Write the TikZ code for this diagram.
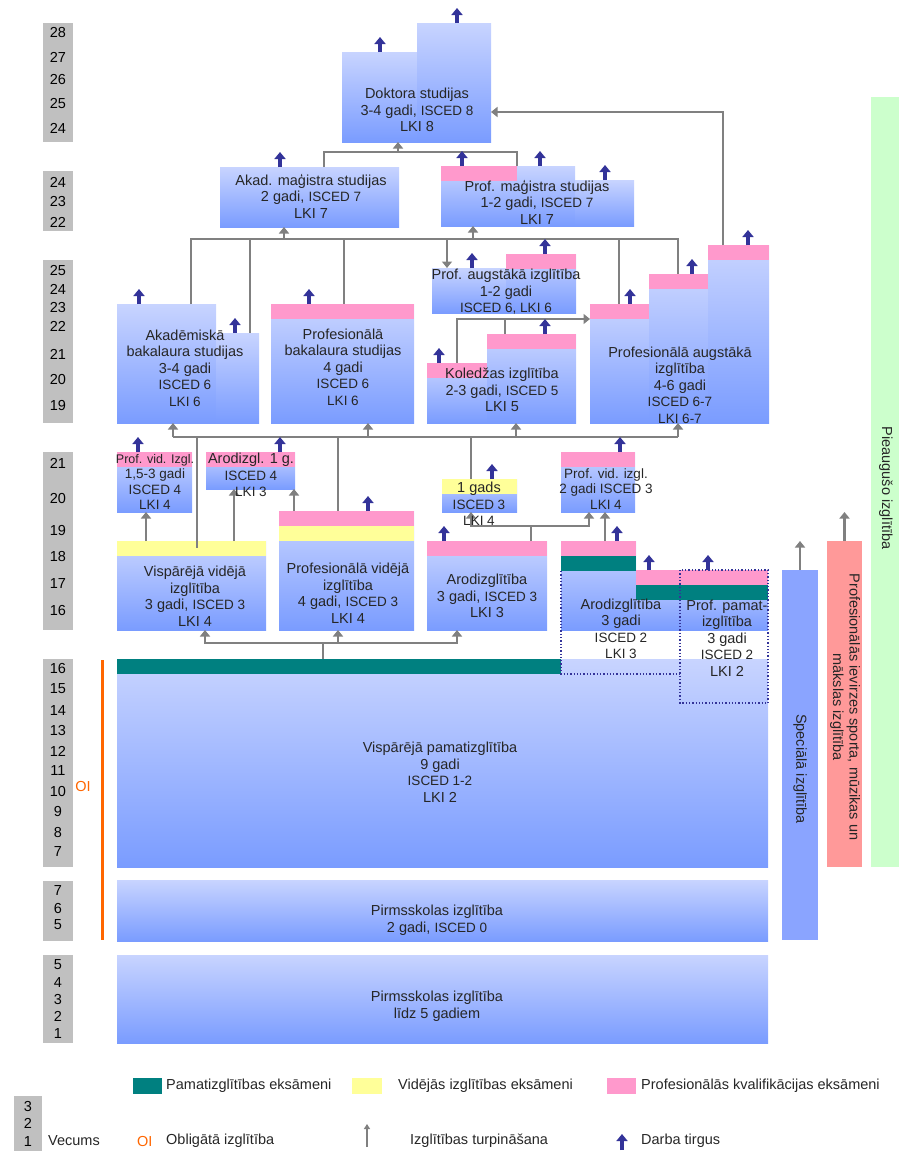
\documentclass[tikz,border=0pt]{standalone}
\usepackage{fontspec}
\setmainfont{Liberation Sans}
\usetikzlibrary{arrows.meta,positioning}

\definecolor{blokgaiss}{RGB}{200,212,255}
\definecolor{bloktumss}{RGB}{122,156,255}
\definecolor{roza}{RGB}{255,153,204}
\definecolor{dzeltens}{RGB}{255,255,153}
\definecolor{zilzals}{RGB}{0,128,128}
\definecolor{vecpel}{RGB}{192,192,192}
\definecolor{pelekss}{RGB}{128,128,128}
\definecolor{tumszils}{RGB}{51,51,153}
\definecolor{oranzs}{RGB}{255,102,0}
\definecolor{specz}{RGB}{138,164,255}
\definecolor{lasis}{RGB}{255,153,153}
\definecolor{zals}{RGB}{204,255,204}

\newcommand{\isc}{\fontsize{13.5}{16.5}\selectfont}
\newcommand{\kaste}[6][blok]{\node[#1, minimum width={(#5-#3)*1pt}, minimum height={(#6-#4)*1pt}] (#2) at (#3,#4) {};}

\tikzset{
	blok/.style={inner sep=0pt, outer sep=0pt, anchor=north west, top color=blokgaiss, bottom color=bloktumss},
	vecbox/.style={inner sep=0pt, outer sep=0pt, anchor=north west, fill=vecpel},
	gads/.style={inner sep=0pt, font=\fontsize{14.5}{17}\selectfont},
	teksts/.style={align=center, inner sep=0pt, text=black!85, font=\fontsize{14.5}{16.5}\selectfont},
	mazs/.style={teksts, font=\fontsize{13.5}{15.5}\selectfont},
	legteksts/.style={inner sep=0pt, anchor=west, text=black!85, font=\fontsize{14.5}{17}\selectfont},
	savienojums/.style={draw=pelekss, line width=2.5pt},
	turp/.style={savienojums, -{Triangle[width=10pt,length=6.5pt]}},
	darba/.style={draw=tumszils, line width=4pt, -{Triangle[width=11pt,length=7pt]}},
	punkti/.style={draw=tumszils, line width=1.3pt, dotted},
}

\begin{document}
\begin{tikzpicture}[x=1pt,y=-1pt]
	\useasboundingbox (0,0) rectangle (900,1151);
	
	% vecums
	\kaste[vecbox]{v1}{43}{23}{73}{142}
	\kaste[vecbox]{v2}{43}{171}{73}{231}
	\kaste[vecbox]{v3}{43}{260}{73}{423}
	\kaste[vecbox]{v4}{43}{452}{73}{630}
	\kaste[vecbox]{v5}{43}{659}{73}{867}
	\kaste[vecbox]{v6}{43}{881}{73}{941}
	\kaste[vecbox]{v7}{43}{955}{73}{1043}
	\foreach \n/\y [count=\i] in {28/33,27/57,26/80,25/104,24/128}
		\node[gads] (g1-\i) at (58,\y) {\n};
	\foreach \n/\y [count=\i] in {24/182,23/202,22/222}
		\node[gads] (g2-\i) at (58,\y) {\n};
	\foreach \n/\y [count=\i] in {25/271,24/289,23/308,22/326,21/354,20/380,19/406}
		\node[gads] (g3-\i) at (58,\y) {\n};
	\foreach \n/\y [count=\i] in {21/463,20/499,19/531,18/557,17/584,16/611}
		\node[gads] (g4-\i) at (58,\y) {\n};
	\foreach \n/\y [count=\i] in {16/669,15/689,14/711,13/730,12/751,11/771,10/791,9/811,8/832,7/852}
		\node[gads] (g5-\i) at (58,\y) {\n};
	\foreach \n/\y [count=\i] in {7/891,6/908,5/925}
		\node[gads] (g6-\i) at (58,\y) {\n};
	\foreach \n/\y [count=\i] in {5/965,4/982,3/999,2/1016,1/1033}
		\node[gads] (g7-\i) at (58,\y) {\n};
	
	\draw[oranzs, line width=3pt] (102,660) -- (102,940);
	\node[gads, text=oranzs] (oi) at (83,786) {OI};
	
	% pamatizglitiba, pirmsskola
	\kaste{vispamat}{117}{659}{768}{867}
	\kaste{pirms2}{117}{880}{768}{941}
	\kaste{pirms5}{117}{955}{768}{1043}
	\fill[zilzals] (117,659) rectangle (561,674);
	
	% 16-19
	\kaste{visvid}{117}{541}{266}{630}
	\kaste{profvid}{279}{511}{414}{630}
	\kaste{arod3}{427}{541}{547}{630}
	\kaste{arod2}{561}{541}{636}{630}
	\kaste{ppamat}{636}{570}{768}{630}
	\fill[dzeltens] (117,541) rectangle (266,556);
	\fill[roza] (279,511) rectangle (414,526);
	\fill[dzeltens] (279,526) rectangle (414,541);
	\fill[roza] (427,541) rectangle (547,556);
	\fill[roza] (561,541) rectangle (636,556);
	\fill[zilzals] (561,556) rectangle (636,571);
	\fill[roza] (636,570) rectangle (768,585);
	\fill[zilzals] (636,585) rectangle (768,600);
	\draw[punkti] (561,571) -- (561,674) -- (680,674);
	\draw[punkti] (680,570) rectangle (768,703);
	
	% 19-21
	\kaste{pvid1}{117}{452}{192}{512}
	\kaste{arodizgl1}{206}{452}{295}{489}
	\kaste{gads1}{442}{479}{517}{512}
	\kaste{pvid2}{561}{452}{635}{512}
	\fill[roza] (117,452) rectangle (192,467);
	\fill[roza] (206,452) rectangle (295,467);
	\fill[dzeltens] (442,479) rectangle (517,494);
	\fill[roza] (561,452) rectangle (635,467);
	
	% augstaka
	\kaste{akadbakA}{117}{304}{216}{423}
	\kaste{akadbakB}{216}{333}{259}{423}
	\kaste{profbak}{271}{304}{414}{423}
	\kaste{profaugA}{432}{268}{506}{313}
	\kaste{profaugB}{506}{254}{576}{313}
	\kaste{koledzA}{427}{363}{487}{423}
	\kaste{koledzB}{487}{334}{576}{423}
	\kaste{paugA}{590}{304}{649}{423}
	\kaste{paugB}{649}{274}{708}{423}
	\kaste{paugC}{708}{245}{769}{423}
	\fill[roza] (271,304) rectangle (414,319);
	\fill[roza] (506,254) rectangle (576,269);
	\fill[roza] (427,363) rectangle (487,378);
	\fill[roza] (487,334) rectangle (576,349);
	\fill[roza] (590,304) rectangle (649,319);
	\fill[roza] (649,274) rectangle (708,289);
	\fill[roza] (708,245) rectangle (769,260);
	
	% magistra, doktora
	\kaste{akadmag}{220}{167}{399}{227}
	\kaste{profmagA}{441}{166}{575}{226}
	\kaste{profmagB}{575}{180}{634}{226}
	\kaste{dokA}{342}{52}{417}{142}
	\kaste{dokB}{417}{23}{491}{142}
	\fill[roza] (441,166) rectangle (517,181);
	
	% sani
	\kaste[vecbox, fill=specz]{specbar}{782}{570}{818}{940}
	\kaste[vecbox, fill=lasis]{sportbar}{827}{541}{862}{867}
	\kaste[vecbox, fill=zals]{pieaugbar}{871}{97}{899}{867}
	
	% izglitibas turpinasana
	\coordinate (d1) at (324,152);
	\coordinate (d2) at (517,152);
	\coordinate (d3) at (398,152);
	\coordinate (d4) at (723,112);
	\draw[savienojums] (akadmag.north -| d1) -- (d1) -- (d2) -- (profmagA.north -| d2);
	\draw[turp] (d3) -- (dokA.south -| d3);
	\draw[turp] (paugC.north -| d4) -- (d4) -- (dokB.east |- d4);
	
	\coordinate (m1) at (191,239);
	\coordinate (m2) at (250,239);
	\coordinate (m3) at (284,239);
	\coordinate (m4) at (344,239);
	\coordinate (m5) at (447,239);
	\coordinate (m6) at (473,239);
	\coordinate (m7) at (619,239);
	\coordinate (m8) at (678,239);
	\draw[savienojums] (akadbakA.north -| m1) -- (m1) -- (m8) -- (paugB.north -| m8);
	\draw[savienojums] (m2) -- (akadbakB.north -| m2);
	\draw[savienojums] (m4) -- (profbak.north -| m4);
	\draw[savienojums] (m7) -- (paugA.north -| m7);
	\draw[turp] (m3) -- (akadmag.south -| m3);
	\draw[turp] (m6) -- (profmagA.south -| m6);
	\draw[turp] (m5) -- (profaugA.north -| m5);
	
	\coordinate (k1) at (457,319);
	\coordinate (k2) at (505,319);
	\draw[turp] (koledzA.north -| k1) -- (k1) -- (paugA.west |- k1);
	\draw[savienojums] (koledzB.north -| k2) -- (k2);
	
	\coordinate (n1) at (173,437);
	\coordinate (n2) at (197,437);
	\coordinate (n2b) at (197,548);
	\coordinate (n3) at (338,437);
	\coordinate (n4) at (368,437);
	\coordinate (n5) at (471,437);
	\coordinate (n6) at (516,437);
	\coordinate (n7) at (678,437);
	\draw[savienojums] (n1) -- (n7);
	\draw[turp] (n1) -- (akadbakA.south -| n1);
	\draw[turp] (n4) -- (profbak.south -| n4);
	\draw[turp] (n6) -- (koledzB.south -| n6);
	\draw[turp] (n7) -- (paugB.south -| n7);
	\draw[savienojums] (n2) -- (n2b);
	\draw[savienojums] (n3) -- (profvid.north -| n3);
	\draw[savienojums] (n5) -- (gads1.north -| n5);
	
	\coordinate (p1) at (146,0);
	\coordinate (p2) at (234,0);
	\coordinate (p3) at (294,0);
	\coordinate (p4) at (605,0);
	\draw[turp] (visvid.north -| p1) -- (pvid1.south -| p1);
	\draw[turp] (visvid.north -| p2) -- (arodizgl1.south -| p2);
	\draw[turp] (profvid.north -| p3) -- (arodizgl1.south -| p3);
	\draw[turp] (arod2.north -| p4) -- (pvid2.south -| p4);
	
	\coordinate (r1) at (531,526);
	\coordinate (r2) at (471,526);
	\coordinate (r3) at (589,526);
	\draw[savienojums] (arod3.north -| r1) -- (r1);
	\draw[turp] (r1) -| (gads1.south -| r2);
	\draw[turp] (r1) -| (pvid2.south -| r3);
	
	\coordinate (s1) at (205,643);
	\coordinate (s2) at (323,643);
	\coordinate (s3) at (338,643);
	\coordinate (s4) at (457,643);
	\draw[savienojums] (vispamat.north -| s2) -- (s2);
	\draw[turp] (s2) -| (visvid.south -| s1);
	\draw[turp] (s2) -| (arod3.south -| s4);
	\draw[turp] (s3) -- (profvid.south -| s3);
	
	\draw[turp] (specbar.north) -- ++(0,-29);
	\draw[turp] (sportbar.north) -- ++(0,-29);
	
	% darba tirgus
	\foreach \x/\y in {380/52,457/23,280/167,462/166,540/166,605/180,139/304,235/333,
		309/304,472/268,545/254,439/363,545/334,630/304,692/274,748/245,138/452,
		280/452,368/511,444/541,492/479,620/452,617/541,649/570,708/570}
		\draw[darba] (\x,\y) -- ++(0,-15);
	
	% teksti
	\node[teksts] (dokT) at (417,110) {Doktora studijas\\3-4 gadi, {\isc ISCED 8}\\LKI 8};
	\node[teksts] (akadmagT) at (311,196) {Akad. maģistra studijas\\2 gadi, {\isc ISCED 7}\\LKI 7};
	\node[teksts] (profmagT) at (537,202) {Prof. maģistra studijas\\1-2 gadi, {\isc ISCED 7}\\LKI 7};
	\node[teksts] (profaugT) at (506,292) {Prof. augstākā izglītība\\1-2 gadi\\{\isc ISCED 6, LKI 6}};
	\node[teksts] (akadbakT) at (185,368) {Akadēmiskā\\bakalaura studijas\\3-4 gadi\\{\isc ISCED 6}\\{\isc LKI 6}};
	\node[teksts] (profbakT) at (343,367) {Profesionālā\\bakalaura studijas\\4 gadi\\{\isc ISCED 6}\\{\isc LKI 6}};
	\node[teksts] (koledzT) at (502,390) {Koledžas izglītība\\2-3 gadi, {\isc ISCED 5}\\LKI 5};
	\node[teksts] (paugT) at (680,385) {Profesionālā augstākā\\izglītība\\4-6 gadi\\{\isc ISCED 6-7}\\{\isc LKI 6-7}};
	\node[mazs] (pvid1T) at (155,482) {{\fontsize{12.5}{15.5}\selectfont Prof. vid. Izgl.}\\1,5-3 gadi\\ISCED 4\\LKI 4};
	\node[teksts] (arodizgl1T) at (251,475) {Arodizgl. 1 g.\\{\isc ISCED 4}\\{\isc LKI 3}};
	\node[teksts] (visvidT) at (195,596) {Vispārējā vidējā\\izglītība\\3 gadi, {\isc ISCED 3}\\LKI 4};
	\node[teksts] (profvidT) at (348,593) {Profesionālā vidējā\\izglītība\\4 gadi, {\isc ISCED 3}\\LKI 4};
	\node[teksts] (arod3T) at (487,596) {Arodizglītība\\3 gadi, {\isc ISCED 3}\\LKI 3};
	\node[teksts] (gads1T) at (479,504) {1 gads\\{\isc ISCED 3}\\{\isc LKI 4}};
	\node[mazs] (pvid2T) at (606,489) {Prof. vid. izgl.\\2 gadi ISCED 3\\LKI 4};
	\node[teksts] (arod2T) at (621,629) {Arodizglītība\\3 gadi\\{\isc ISCED 2}\\{\isc LKI 3}};
	\node[teksts] (ppamatT) at (727,638) {Prof. pamat-\\izglītība\\3 gadi\\{\isc ISCED 2}\\LKI 2};
	\node[teksts] (vispamatT) at (440,772) {Vispārējā pamatizglītība\\9 gadi\\{\isc ISCED 1-2}\\LKI 2};
	\node[teksts] (pirms2T) at (437,920) {Pirmsskolas izglītība\\2 gadi, {\isc ISCED 0}};
	\node[teksts] (pirms5T) at (437,1006) {Pirmsskolas izglītība\\līdz 5 gadiem};
	\node[teksts, rotate=-90] (specT) at (800,769) {Speciālā izglītība};
	\node[teksts, rotate=-90] (sportT) at (845,707) {Profesionālās ievirzes sporta, mūzikas un\\mākslas izglītība};
	\node[teksts, rotate=-90] (pieaugT) at (886,488) {Pieaugušo izglītība};
	
	% apzimejumi
	\kaste[vecbox]{lgvec}{14}{1096}{42}{1151}
	\foreach \n/\y [count=\i] in {3/1106,2/1123,1/1141}
		\node[gads] (lg-\i) at (28,\y) {\n};
	\kaste[vecbox, fill=zilzals]{lgpam}{133}{1078}{162}{1094}
	\node[legteksts, right=4pt of lgpam] (lgpamT) {Pamatizglītības eksāmeni};
	\kaste[vecbox, fill=dzeltens]{lgvid}{352}{1078}{382}{1094}
	\node[legteksts, right=16pt of lgvid] (lgvidT) {Vidējās izglītības eksāmeni};
	\kaste[vecbox, fill=roza]{lgprof}{607}{1078}{636}{1094}
	\node[legteksts, right=5pt of lgprof] (lgprofT) {Profesionālās kvalifikācijas eksāmeni};
	\node[legteksts] (lgvecT) at (48,1141) {Vecums};
	\node[legteksts, text=oranzs] (lgoi) at (137,1141) {OI};
	\node[legteksts] (lgoiT) at (166,1141) {Obligātā izglītība};
	\coordinate (lgt) at (367,1147);
	\draw[pelekss, line width=1.5pt, -{Triangle[width=6pt,length=5pt]}] (lgt) -- ++(0,-23);
	\node[legteksts] (lgtT) at (410,1141) {Izglītības turpināšana};
	\coordinate (lgd) at (622,1150);
	\draw[darba] (lgd) -- ++(0,-16);
	\node[legteksts] (lgdT) at (641,1141) {Darba tirgus};
\end{tikzpicture}
\end{document}
